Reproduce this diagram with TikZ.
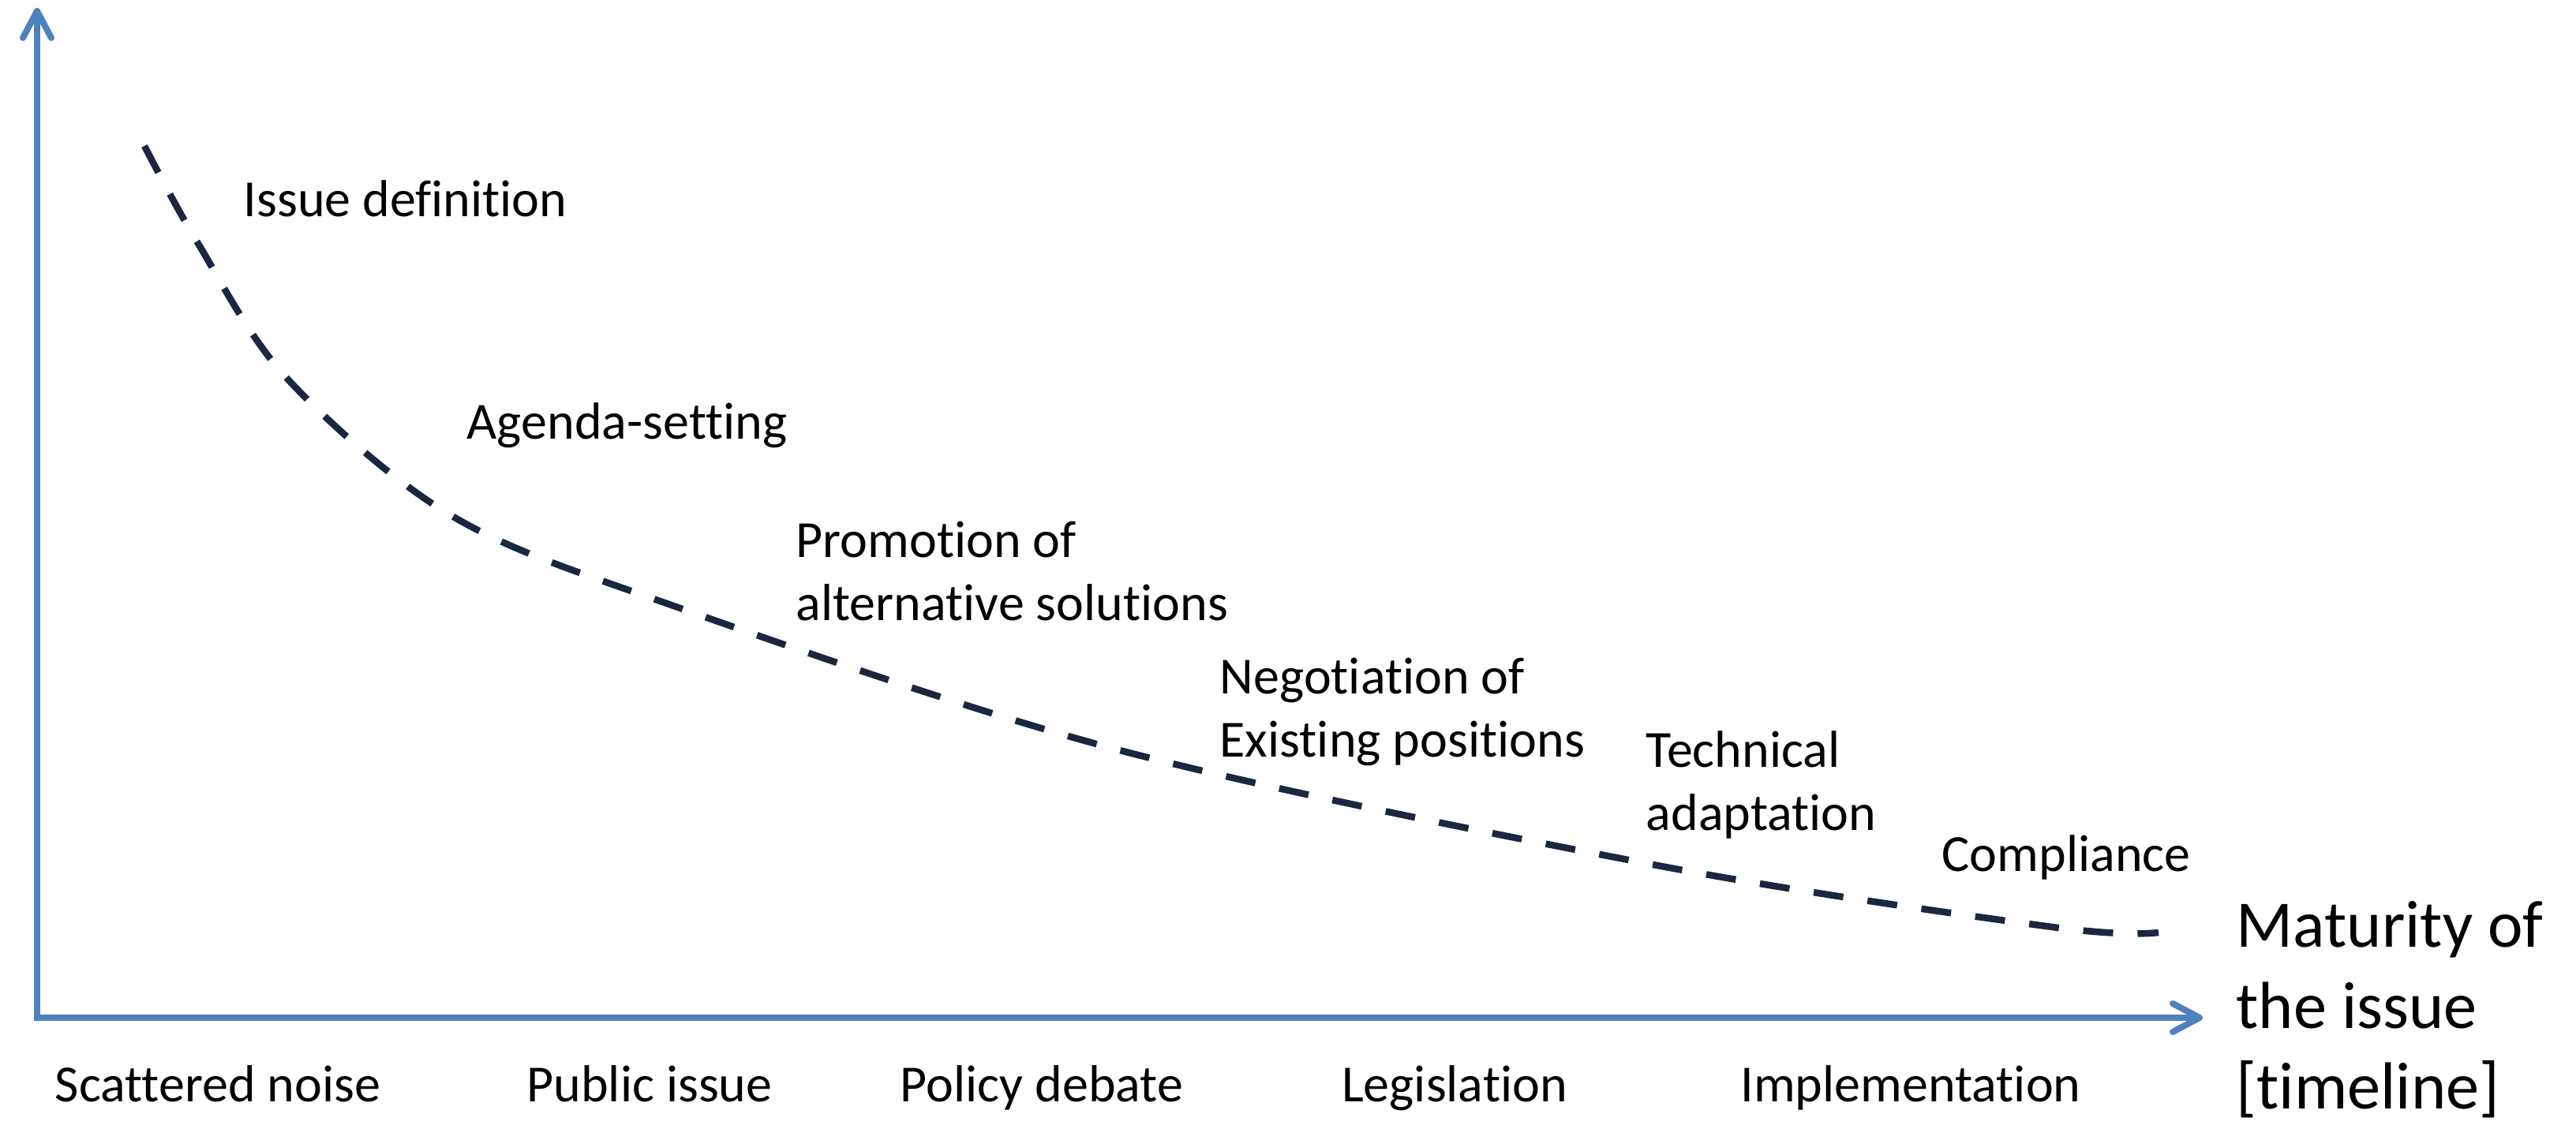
\documentclass[tikz,border=0pt]{standalone}
\usepackage{fontspec}
\setmainfont{Carlito}[Ligatures=NoCommon]
\usetikzlibrary{arrows.meta}

\definecolor{axisblue}{RGB}{79,129,189}
\definecolor{trendnavy}{RGB}{27,39,64}

\begin{document}
\begin{tikzpicture}[
    barb/.tip = {Straight Barb[length=3.4mm, width=3.6mm, line cap=round, line join=round]},
    axis/.style = {axisblue, line width=0.08cm, barb-barb},
    trend/.style = {trendnavy, line width=0.085cm, dash pattern=on 0.38cm off 0.31cm},
    stage/.style = {anchor=base west, align=left, inner sep=0pt, font=\fontsize{18.8pt}{22.8pt}\selectfont},
    phase/.style = {anchor=base, inner sep=0pt, font=\fontsize{18.8pt}{22.8pt}\selectfont}
]
            \useasboundingbox (-0.47,-1.36) rectangle (32.17,12.90);

            % axes
            \coordinate (origin) at (0,0);
            \coordinate (ytip) at (0,12.80);
            \coordinate (xtip) at (27.44,0);
            \draw[axis] (ytip) -- (origin) -- (xtip);

            % maturity curve
            \draw[trend] plot[smooth, tension=0.55] coordinates {
                (1.36,11.05) (2.03,9.83) (3.17,8.10) (5.24,6.37) (7.98,5.25)
                (13.68,3.40) (20.53,1.93) (25.53,1.15) (26.88,1.08)};

            % stages along the curve (multi-line nodes sit on their last line)
            \node[stage] (issue) at (2.61,10.15) {Issue definition};
            \node[stage] (agenda) at (5.44,7.33) {Agenda-setting};
            \node[stage] (promotion) at (9.61,5.03) {Promotion of\\alternative solutions};
            \node[stage] (negotiation) at (14.98,3.30) {Negotiation of\\Existing positions};
            \node[stage] (technical) at (20.38,2.37) {Technical\\adaptation};
            \node[stage] (compliance) at (24.13,1.85) {Compliance};

            % axis label
            \node[stage, font=\fontsize{24pt}{29.3pt}\selectfont] (maturity) at (27.86,-1.16)
                {Maturity of\\the issue\\{[timeline]}};

            % phases under the axis
            \node[phase] (noise) at (2.29,-1.07) {Scattered noise};
            \node[phase] (public) at (7.76,-1.07) {Public issue};
            \node[phase] (debate) at (12.73,-1.07) {Policy debate};
            \node[phase] (legislation) at (17.96,-1.07) {Legislation};
            \node[phase] (implementation) at (23.74,-1.07) {Implementation};
        \end{tikzpicture}
\end{document}
